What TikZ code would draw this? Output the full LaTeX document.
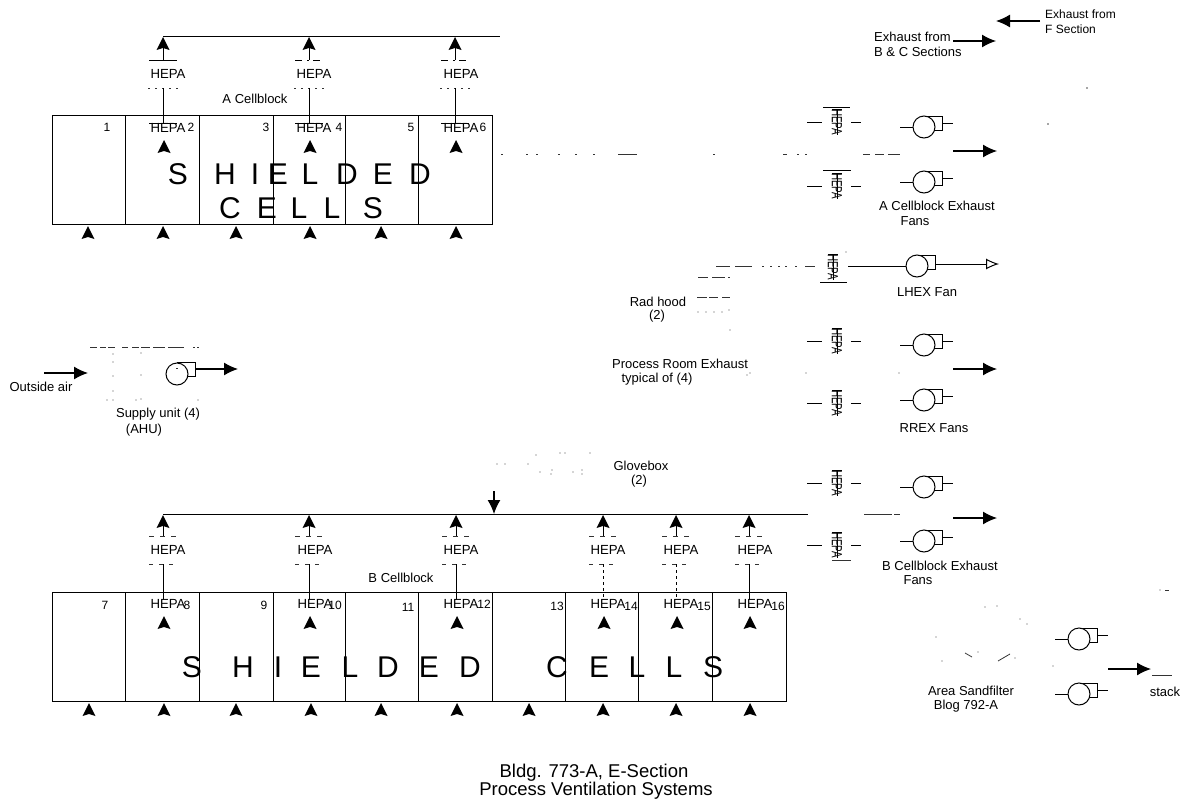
\documentclass[tikz,border=0pt]{standalone}
\usepackage{fontspec}
\usepackage{graphicx}
\setmainfont{Liberation Sans}
\usetikzlibrary{arrows.meta}
\tikzset{
  x=1pt,y=-1pt,
  ln/.style={line width=1pt,black},
  thinln/.style={line width=0.9pt,black},
  lbl/.style={inner sep=0pt,font=\fontsize{13.2}{15}\selectfont,text=black},
  smalllbl/.style={inner sep=0pt,font=\fontsize{13}{15}\selectfont,text=black},
  num/.style={inner sep=0pt,font=\fontsize{12}{14}\selectfont,text=black},
  big/.style={inner sep=0pt,font=\fontsize{30}{32}\selectfont,text=black},
  title/.style={inner sep=0pt,align=center,font=\fontsize{18.5}{20}\selectfont,text=black},
  flow/.style={line width=1.3pt,-{Latex[length=14pt,width=13pt]}},
  frag/.style={line width=0.8pt,black!80},
  pics/head/.style={code={\fill[black] (-6.5,13) -- (0,0) -- (6.5,13) -- (0,11) -- cycle;}},
  pics/filt/.style={code={
    \node[rotate=-90,inner sep=0pt,font=\fontsize{9.8}{10}\selectfont] at (0,0) {\scalebox{1}[1.5]{HEPA}};
    \draw[thinln] (0,-13) -- (0,13);
    \draw[thinln] (-5,-13) -- (5,-13);
  }},
  pics/fan/.style={code={
    \draw[ln] (-24,0) -- (-11,0);
    \draw[ln] (0,-11) -- (18,-11) -- (18,3) -- (9,3);
    \draw[ln] (18,-4) -- (29,-4);
    \draw[ln,fill=white] (0,0) circle (11);
  }},
}
\begin{document}
\begin{tikzpicture}
\useasboundingbox (0,0) rectangle (1181,811);
\fill[white] (0,0) rectangle (1181,811);

% ---------- A cellblock
\draw[ln] (52,115) rectangle (492,224);
\foreach \x in {125,199,273,345,418} \draw[ln] (\x,115) -- (\x,224);
\coordinate (ahdrL) at (163,36);
\coordinate (ahdrR) at (500,36);
\draw[ln] (ahdrL) -- (ahdrR);
\foreach \x/\t in {163/168,309/314,455/461}{
  \pic at (\x,37) {head};
  \draw[ln] (\x,48) -- (\x,60);
  \draw[ln,dash pattern=on 7pt off 5pt on 2pt off 4pt] (\x-14,60) -- (\x+15,60);
  \node[lbl] at (\t,74) {HEPA};
  \draw[frag,dash pattern=on 2pt off 5pt] (\x-15,88) -- (\x+15,88);
  \draw[ln] (\x,88) -- (\x,123);
  \draw[thinln] (\x-14,123) -- (\x+14,123);
  \node[lbl] at (\t,128) {HEPA};
  \pic at (\x+1,140) {head};
}
\draw[ln] (149,60) -- (177,60);
\foreach \x in {88,163,236,310,381,456} \pic at (\x,226) {head};
\foreach \x/\n in {107/1,191/2,266/3,339/4,411/5,483/6}
  \node[num] at (\x,127) {\n};
\node[smalllbl] at (255,99) {A Cellblock};
\foreach \x/\c in {178/S,225/H,255/I,278/E,310/L,347/D,383/E,420/D}
  \node[big] at (\x,174) {\c};
\foreach \x/\c in {230/C,267/E,299/L,332/L,373/S}
  \node[big] at (\x,208) {\c};

% duct fragments A
\foreach \a/\b in {501/503,526/528,536/538,558/560,575/577,593/595,618/637,713/715,783/787,797/799,805/807,863/870,875/884,888/900}
  \draw[frag] (\a,154) -- (\b,154);

% ---------- B cellblock
\draw[ln] (52,592) rectangle (786,701);
\foreach \x in {125,199,273,345,418,492,565,638,712} \draw[ln] (\x,592) -- (\x,701);
\coordinate (bhdrL) at (163,514);
\coordinate (bhdrR) at (808,514);
\draw[ln] (bhdrL) -- (bhdrR);
\foreach \x/\t/\st in {163/168/solid,309/315/solid,456/461/solid,603/608/dashed,676/681/dashed,749/755/solid}{
  \pic at (\x,515) {head};
  \draw[ln] (\x,526) -- (\x,536);
  \draw[frag,dash pattern=on 5pt off 6pt] (\x-14,536) -- (\x+15,536);
  \node[lbl] at (\t,550) {HEPA};
  \draw[frag,dash pattern=on 4pt off 6pt] (\x-14,564) -- (\x+15,564);
  \draw[ln,\st] (\x,564) -- (\x,599);
  \node[lbl] at (\t,604) {HEPA};
  \pic at (\x+1,616) {head};
}
\foreach \x in {89,164,236,311,381,457,529,603,676,750} \pic at (\x,703) {head};
\foreach \x/\y/\n in {105/605/7,187/605/8,264/605/9,335/605/10,408/607/11,484/604/12,557/606/13,631/606/14,704/606/15,778/606/16}
  \node[num] at (\x,\y) {\n};
\node[smalllbl] at (401,578) {B Cellblock};
\foreach \x/\c in {192/S,243/H,278/I,311/E,350/L,388/D,429/E,470/D,557/C,599/E,637/L,674/L,713/S}
  \node[big] at (\x,667) {\c};

% glovebox arrow
\coordinate (gbtop) at (494,491);
\coordinate (gbbot) at (494,514);
\draw[flow] (gbtop) -- (gbbot);
\node[smalllbl] at (641,466) {Glovebox};
\node[smalllbl] at (639,481) {(2)};
\foreach \x/\y in {497/464,505/464,528/464,536/455,560/453,565/453,590/453,540/472,551/474,552/470,573/472,582/474,582/470}
  \fill[black!70] (\x,\y) circle (0.7);
% duct fragments B
\foreach \a/\b in {864/892,894/900}
  \draw[frag,line width=0.9pt] (\a,514) -- (\b,514);

% ---------- right column: exhaust groups
\foreach \fy/\ly/\cy in {122/122/127,186/186/182,341/341/345,403/403/400,483/483/487,545/545/541}{
  \pic at (837,\fy) {filt};
  \draw[ln] (807,\ly) -- (822,\ly);
  \draw[ln] (851,\ly) -- (861,\ly);
  \pic at (924,\cy) {fan};
}
\draw[thinln] (823,107) -- (850,107);
\draw[thinln] (823,170) -- (851,170);
\draw[frag] (832,560) -- (851,560);
\foreach \y in {151,369,518}{
  \coordinate (exL\y) at (953,\y);
  \coordinate (exR\y) at (997,\y);
  \draw[flow] (exL\y) -- (exR\y);
}
\node[smalllbl] at (937,206) {A Cellblock Exhaust};
\node[smalllbl] at (915,221) {Fans};
\node[smalllbl] at (934,428) {RREX Fans};
\node[smalllbl] at (940,566) {B Cellblock Exhaust};
\node[smalllbl] at (918,580) {Fans};

% LHEX
\pic at (833,267) {filt};
\draw[ln] (820,282) -- (847,282);
\draw[ln] (848,266) -- (906,266);
\draw[ln] (917,255) -- (935,255) -- (935,269) -- (927,269);
\draw[ln,fill=white] (917,266) circle (11);
\draw[line width=1pt,-{Latex[open,length=13pt,width=11pt]}] (935,264) -- (999,264);
\node[smalllbl] at (927,292) {LHEX Fan};
\foreach \a/\b in {716/730,735/752,762/764,770/772,778/780,785/787,795/797,805/815}
  \draw[frag] (\a,266) -- (\b,266);
\foreach \a/\b in {698/708,712/725,728/730}\draw[frag] (\a,277) -- (\b,277);
\foreach \a/\b in {697/707,709/718,722/730}\draw[frag,line width=1pt] (\a,297) -- (\b,297);
\foreach \x/\y in {698/312,706/312,714/312,722/312,729/310,730/330,750/373,747/375,806/373,899/373,846/252}
  \fill[black!70] (\x,\y) circle (0.7);
\node[smalllbl] at (658,302) {Rad hood};
\node[smalllbl] at (657,316) {(2)};
\node[smalllbl] at (680,364) {Process Room Exhaust};
\node[smalllbl] at (657,379) {typical of (4)};

% Exhaust from other sections
\coordinate (bcL) at (953,41);
\coordinate (bcR) at (996,41);
\draw[flow] (bcL) -- (bcR);
\node[smalllbl,anchor=west] at (874,37) {Exhaust from};
\node[smalllbl,anchor=west] at (874,52) {B \& C Sections};
\coordinate (fL) at (1040,21);
\coordinate (fR) at (996,21);
\draw[flow] (fL) -- (fR);
\node[inner sep=0pt,font=\fontsize{12}{14}\selectfont,anchor=west] at (1045,14) {Exhaust from};
\node[inner sep=0pt,font=\fontsize{12}{14}\selectfont,anchor=west] at (1045,29) {F Section};
\foreach \x/\y in {1087/88,1048/124} \fill[black!70] (\x,\y) circle (0.8);

% Supply unit
\coordinate (oaL) at (44,373);
\coordinate (oaR) at (88,373);
\draw[flow] (oaL) -- (oaR);
\node[smalllbl] at (41,387) {Outside air};
\foreach \a/\b in {90/97,100/106,108/115,122/128,132/139,141/150,153/165,168/184,193/195,197/199}
  \draw[frag,line width=0.9pt] (\a,347) -- (\b,347);
\foreach \x/\y in {113/354,141/353,113/362,113/376,141/375,113/391,107/400,113/400,136/400,141/399,198/400}
  \fill[black!70] (\x,\y) circle (0.7);
\draw[ln] (177,362) -- (195,362) -- (195,376) -- (187,376);
\draw[ln,fill=white] (177,374) circle (11);
\draw[frag] (176,368) -- (178,368);
\coordinate (suL) at (195,369);
\coordinate (suR) at (238,369);
\draw[flow] (suL) -- (suR);
\node[smalllbl] at (158,414) {Supply unit (4)};
\node[smalllbl] at (144,430) {(AHU)};

% Sandfilter
\pic at (1079,639) {fan};
\pic at (1079,694) {fan};
\coordinate (stL) at (1108,669);
\coordinate (stR) at (1151,669);
\draw[flow] (stL) -- (stR);
\draw[frag] (1152,675) -- (1172,675);
\node[smalllbl] at (1165,692) {stack};
\node[smalllbl] at (971,691) {Area Sandfilter};
\node[smalllbl] at (966,706) {Blog  792-A};
\foreach \x/\y in {985/607,997/606,1020/619,1027/624,936/637,942/661,978/652,1015/658,1053/666,1160/590}
  \fill[black!70] (\x,\y) circle (0.7);
\draw[frag] (965,653) -- (972,657);
\draw[frag] (998,661) -- (1010,654);
\draw[frag] (1165,590) -- (1169,590);

% Caption
\node[title] at (594,773) {Bldg. 773-A, E-Section};
\node[title] at (596,791) {Process Ventilation Systems};
\end{tikzpicture}
\end{document}
